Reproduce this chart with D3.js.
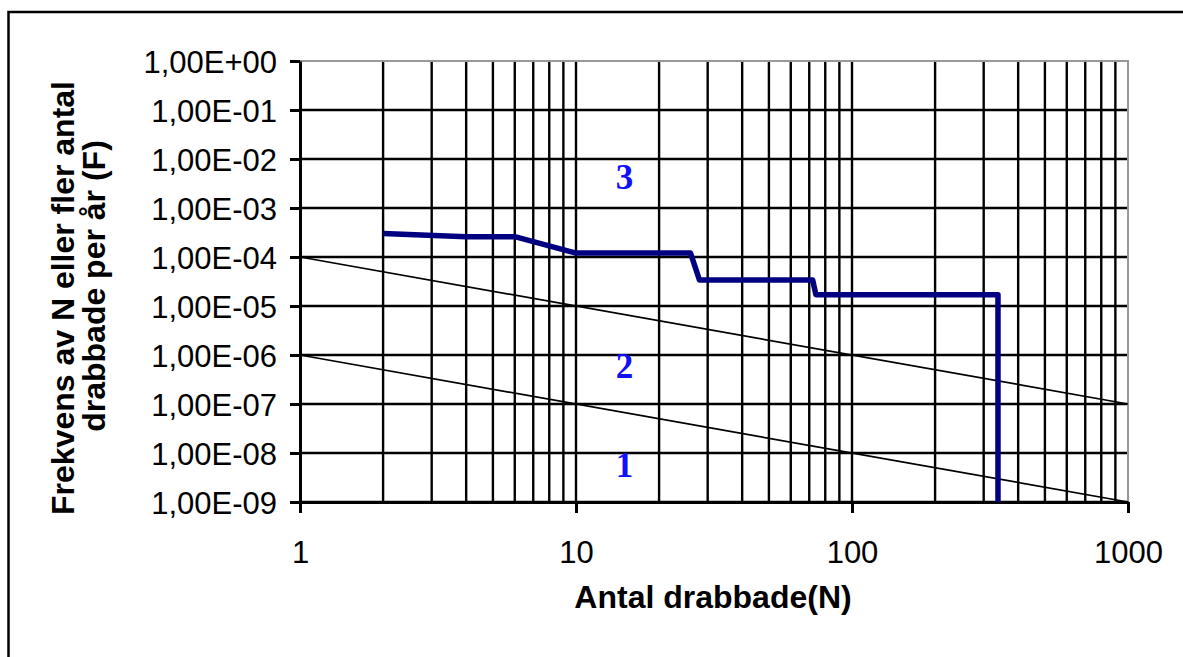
<!DOCTYPE html>
<html>
<head>
<meta charset="utf-8">
<script src="https://cdn.jsdelivr.net/npm/d3@7"></script>
<style>
  body { margin: 0; background: #fff; }
  .tick text { font-family: "Liberation Sans", Arial, sans-serif; font-size: 31px; fill: #000; }
  .title { font-family: "Liberation Sans", Arial, sans-serif; font-size: 32px; font-weight: bold; }
  .zone { font-family: "Liberation Serif", "Times New Roman", serif; font-size: 35px; font-weight: bold; fill: #1010ff; }
</style>
</head>
<body>
<div id="chart"></div>
<script>
const F_WIDTH = 1183;
const F_HEIGHT = 657;
const MARGINS = {left: 300, right: 55, top: 61, bottom: 155};

const VIS_WIDTH = F_WIDTH - MARGINS.left - MARGINS.right;
const VIS_HEIGHT = F_HEIGHT - MARGINS.top - MARGINS.bottom;

// axis ticks
const N_TICKS = [1, 10, 100, 1000];
const F_TICKS = [1e0, 1e-1, 1e-2, 1e-3, 1e-4, 1e-5, 1e-6, 1e-7, 1e-8, 1e-9];
const F_LABELS = ["1,00E+00", "1,00E-01", "1,00E-02", "1,00E-03", "1,00E-04",
                  "1,00E-05", "1,00E-06", "1,00E-07", "1,00E-08", "1,00E-09"];
const GRID_N = [2, 3, 4, 5, 6, 7, 8, 9, 10, 20, 30, 40, 50, 60, 70, 80, 90,
                100, 200, 300, 400, 500, 600, 700, 800, 900];

// F/N curve
const RISK_N = [2, 4, 6, 10, 26, 28, 72, 74, 338, 338];
const RISK_F = [3.0e-4, 2.6e-4, 2.6e-4, 1.2e-4, 1.2e-4, 3.4e-5, 3.4e-5, 1.7e-5, 1.7e-5, 1e-9];

// criteria lines
const UPPER_N = [1, 1000];
const UPPER_F = [1e-4, 1e-7];
const LOWER_N = [1, 1000];
const LOWER_F = [1e-6, 1e-9];

// zone labels
const ZONE_TEXT = ["3", "2", "1"];
const ZONE_N = [15, 15, 15];
const ZONE_F = [2.4e-3, 3.4e-7, 3.2e-9];

const SVG = d3.select("#chart")
  .append("svg")
    .attr("width", F_WIDTH)
    .attr("height", F_HEIGHT);

// outer frame (runs off the picture on the right and bottom)
SVG.append("rect")
    .attr("x", 8.5)
    .attr("y", 12)
    .attr("width", 1300)
    .attr("height", 800)
    .attr("fill", "none")
    .attr("stroke", "#000")
    .attr("stroke-width", 2.5);

const X_SCALE = d3.scaleLog()
  .domain([1, 1000])
  .range([0, VIS_WIDTH]);

const Y_SCALE = d3.scaleLog()
  .domain([1e-9, 1])
  .range([VIS_HEIGHT, 0]);

const FRAME = SVG.append("g")
  .attr("transform", "translate(" + MARGINS.left + "," + MARGINS.top + ")");

// vertical grid
FRAME.append("g")
  .selectAll("line")
  .data(GRID_N)
  .enter()
  .append("line")
    .attr("x1", (d) => X_SCALE(d))
    .attr("x2", (d) => X_SCALE(d))
    .attr("y1", 0)
    .attr("y2", VIS_HEIGHT)
    .attr("stroke", "#000")
    .attr("stroke-width", 2.4);

// horizontal grid
FRAME.append("g")
  .selectAll("line")
  .data(F_TICKS.slice(1))
  .enter()
  .append("line")
    .attr("x1", 0)
    .attr("x2", VIS_WIDTH)
    .attr("y1", (d) => Y_SCALE(d))
    .attr("y2", (d) => Y_SCALE(d))
    .attr("stroke", "#000")
    .attr("stroke-width", 2.4);

// plot border top/right (grey)
FRAME.append("path")
    .attr("d", "M0," + Y_SCALE(1) + "H" + X_SCALE(1000) + "V" + Y_SCALE(1e-9))
    .attr("fill", "none")
    .attr("stroke", "#999")
    .attr("stroke-width", 2);

// y axis
const yAxis = FRAME.append("g")
  .call(d3.axisLeft(Y_SCALE)
    .tickValues(F_TICKS)
    .tickFormat((d, i) => F_LABELS[i])
    .tickSize(10)
    .tickSizeOuter(0)
    .tickPadding(13));
yAxis.select(".domain").attr("stroke-width", 3);
yAxis.selectAll(".tick line").attr("stroke-width", 3);
yAxis.selectAll(".tick text").attr("dy", "0.36em");

// x axis
const xAxis = FRAME.append("g")
  .attr("transform", "translate(0," + VIS_HEIGHT + ")")
  .call(d3.axisBottom(X_SCALE)
    .tickValues(N_TICKS)
    .tickFormat(d3.format("d"))
    .tickSize(11)
    .tickSizeOuter(0)
    .tickPadding(28));
xAxis.select(".domain").attr("stroke-width", 3);
xAxis.selectAll(".tick line").attr("stroke-width", 3);

// criteria lines
const line = d3.line()
  .x((d) => X_SCALE(d[0]))
  .y((d) => Y_SCALE(d[1]));

[[UPPER_N, UPPER_F], [LOWER_N, LOWER_F]].forEach(([ns, fs]) => {
  FRAME.append("path")
      .datum(ns.map((n, i) => [n, fs[i]]))
      .attr("d", line)
      .attr("fill", "none")
      .attr("stroke", "#000")
      .attr("stroke-width", 1.7);
});

// F/N curve
FRAME.append("path")
    .datum(RISK_N.map((n, i) => [n, RISK_F[i]]))
    .attr("d", line)
    .attr("fill", "none")
    .attr("stroke", "#000080")
    .attr("stroke-width", 5.5)
    .attr("stroke-linejoin", "round");

// zone numbers
FRAME.selectAll(".zone")
  .data(ZONE_TEXT)
  .enter()
  .append("text")
    .attr("class", "zone")
    .attr("x", (d, i) => X_SCALE(ZONE_N[i]))
    .attr("y", (d, i) => Y_SCALE(ZONE_F[i]))
    .attr("text-anchor", "middle")
    .text((d) => d);

// axis titles
SVG.append("text")
    .attr("class", "title")
    .attr("x", 713)
    .attr("y", 608)
    .attr("text-anchor", "middle")
    .text("Antal drabbade(N)");

SVG.append("text")
    .attr("class", "title")
    .attr("transform", "translate(74,298) rotate(-90)")
    .attr("text-anchor", "middle")
    .text("Frekvens av N eller fler antal");

SVG.append("text")
    .attr("class", "title")
    .attr("transform", "translate(105,286) rotate(-90)")
    .attr("text-anchor", "middle")
    .text("drabbade per år (F)");
</script>
</body>
</html>
